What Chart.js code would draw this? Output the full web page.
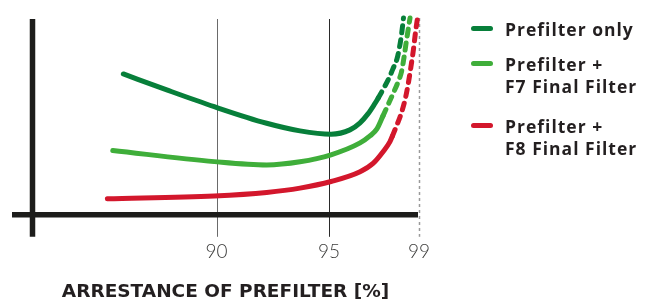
<!DOCTYPE html>
<html>
<head>
<meta charset="utf-8">
<script src="https://cdn.jsdelivr.net/npm/chart.js@4"></script>
<style>
  html, body { margin: 0; padding: 0; background: #fff; }
  #wrap { position: relative; width: 652px; height: 302px; }
  #legend { position: absolute; left: 0; top: 0; font-family: "Open Sans", sans-serif; font-weight: 700; font-size: 17.5px; color: #231f20; }
  .item { position: absolute; left: 471px; }
  .swatch { position: absolute; left: 0; width: 22px; height: 5px; border-radius: 3px; }
  .txt { position: absolute; left: 34px; line-height: 22px; white-space: nowrap; letter-spacing: 1px; }
</style>
</head>
<body>
<div id="wrap">
  <canvas id="chart" width="652" height="302"></canvas>
  <div id="legend"></div>
</div>
<script>
const xTicks = [90, 95, 99];
const axisTitle = "ARRESTANCE OF PREFILTER [%]";

const labels = [["Prefilter only"], ["Prefilter +", "F7 Final Filter"], ["Prefilter +", "F8 Final Filter"]];
const colors = ["#077f3a", "#3fae3a", "#d3172c"];

// prefilter only
const onlyX = [85.86, 87.79, 89.90, 92.23, 93.71, 95.09, 95.93, 96.38, 96.73, 97.00, 97.19, 97.49, 97.67, 97.84, 98.02, 98.11, 98.22, 98.31];
const onlyY = [72.3, 64.1, 55.5, 47.0, 43.1, 41.4, 43.6, 47.2, 51.8, 56.4, 60.0, 66.2, 70.3, 74.9, 80.0, 84.6, 92.3, 101.0];
// prefilter + F7
const f7X = [85.39, 89.90, 92.23, 93.71, 95.09, 96.38, 96.82, 97.13, 97.40, 97.62, 97.80, 98.07, 98.22, 98.33, 98.44, 98.53, 98.60];
const f7Y = [33.0, 27.3, 25.6, 27.2, 30.8, 36.9, 40.5, 44.1, 50.8, 56.4, 61.0, 68.2, 73.3, 80.5, 89.2, 95.9, 101.0];
// prefilter + F8
const f8X = [85.15, 89.90, 92.23, 93.71, 95.09, 96.38, 96.97, 97.41, 97.71, 97.82, 98.02, 98.16, 98.38, 98.52, 98.64, 98.75, 98.84, 98.92];
const f8Y = [8.2, 9.7, 11.5, 13.7, 17.1, 22.1, 26.5, 32.5, 37.6, 40.5, 46.2, 50.3, 59.0, 67.2, 75.9, 84.6, 93.3, 100.0];

// onde as curvas passam a tracejado
const dashFrom = [97.19, 97.40, 97.82];

const seriesX = [onlyX, f7X, f8X];
const seriesY = [onlyY, f7Y, f8Y];

function pontos(xs, ys) {
  return xs.map((x, i) => ({ x, y: ys[i] }));
}

const eixos = {
  id: "eixos",
  beforeDatasetsDraw(chart) {
    const { ctx, chartArea } = chart;
    const xs = chart.scales.x;
    const ys = chart.scales.y;
    const y0 = ys.getPixelForValue(0);
    ctx.save();
    // linhas verticais
    xTicks.forEach((v) => {
      const px = Math.round(xs.getPixelForValue(v)) + 0.5;
      ctx.beginPath();
      if (v === 99) {
        ctx.strokeStyle = "#9a9a9a";
        ctx.lineWidth = 1.5;
        ctx.setLineDash([3, 3]);
        ctx.moveTo(px, chartArea.top - 2);
      } else {
        ctx.strokeStyle = v === 90 ? "#6a6a6a" : "#2a2a2a";
        ctx.lineWidth = 1;
        ctx.setLineDash([]);
        ctx.moveTo(px, chartArea.top - 1);
      }
      ctx.lineTo(px, y0 + 22);
      ctx.stroke();
    });
    ctx.setLineDash([]);
    // eixos em cruz
    ctx.strokeStyle = "#1d1d1b";
    ctx.lineWidth = 5.5;
    ctx.lineCap = "butt";
    ctx.beginPath();
    ctx.moveTo(12, y0);
    ctx.lineTo(chartArea.right - 1, y0);
    ctx.stroke();
    ctx.beginPath();
    ctx.moveTo(chartArea.left + 0.5, chartArea.top - 1);
    ctx.lineTo(chartArea.left + 0.5, y0 + 22);
    ctx.stroke();
    ctx.restore();
  }
};

const datasets = seriesX.map((xs, i) => ({
  label: labels[i].join(" "),
  data: pontos(xs, seriesY[i]),
  borderColor: colors[i],
  borderWidth: 5,
  borderCapStyle: "round",
  borderJoinStyle: "round",
  pointRadius: 0,
  cubicInterpolationMode: "monotone",
  clip: false,
  segment: {
    borderDash: (c) => (c.p0.parsed.x >= dashFrom[i] - 0.001 ? [7, 7] : undefined),
  },
}));

new Chart(document.getElementById("chart"), {
  type: "line",
  data: { datasets },
  options: {
    responsive: false,
    animation: false,
    layout: { padding: { top: 20, left: 32, right: 233, bottom: 0 } },
    plugins: { legend: { display: false }, tooltip: { enabled: false } },
    scales: {
      x: {
        type: "linear",
        min: 81.8,
        max: 99,
        afterBuildTicks: (scale) => { scale.ticks = xTicks.map((v) => ({ value: v })); },
        grid: { display: false, drawTicks: false },
        border: { display: false },
        ticks: {
          padding: 26,
          maxRotation: 0,
          autoSkip: false,
          color: "#3c3c3b",
          font: { family: "Lato", size: 19, weight: "300" },
        },
        title: {
          display: true,
          text: axisTitle,
          color: "#231f20",
          padding: { top: -8.8, bottom: -1 },
          font: { family: "DejaVu Sans", size: 18.5, weight: "700" },
        },
      },
      y: { display: false, min: 0, max: 100 },
    },
  },
  plugins: [eixos],
});

// legenda
const legend = document.getElementById("legend");
const swatchY = [28, 63, 125];
labels.forEach((linhas, i) => {
  const item = document.createElement("div");
  item.className = "item";
  item.style.top = swatchY[i] + "px";
  item.innerHTML = `<div class="swatch" style="background:${colors[i]};top:-2.5px"></div>` +
    `<div class="txt" style="top:-10px">${linhas.join("<br>")}</div>`;
  legend.appendChild(item);
});
</script>
</body>
</html>
